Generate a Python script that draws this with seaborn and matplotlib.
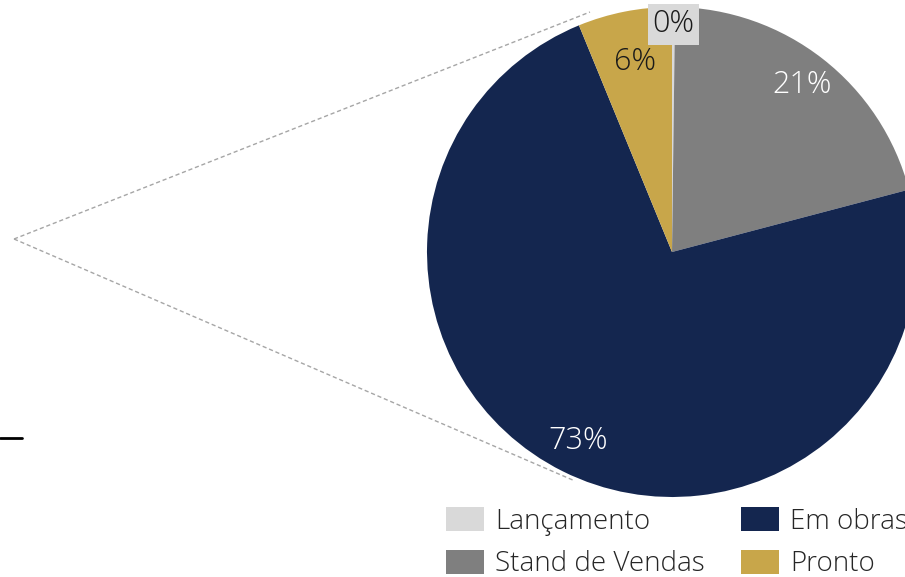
import matplotlib
matplotlib.use("Agg")
import matplotlib.pyplot as plt
import seaborn as sns
import numpy as np
from matplotlib.patches import Patch
from matplotlib.lines import Line2D

# data
categories = ["Lançamento", "Stand de Vendas", "Em obras", "Pronto"]
shares = [0.2, 20.7, 72.9, 6.2]
colors = ["#D9D9D9", "#7F7F7F", "#14264F", "#C8A64A"]
label_colors = ["#1A1A1A", "white", "white", "#1A1A1A"]
label_dist = [0.93, 0.865, 0.86, 0.79]

sns.set_theme(style="white")
font = ["Open Sans", "DejaVu Sans"]
plt.rcParams["font.family"] = font
plt.rcParams["text.color"] = "#262626"

fig = plt.figure(figsize=(9.05, 5.77), dpi=100)
ax = fig.add_axes([0, 0, 1, 1])

cx, cy, r = 672, 325, 245

# callout lines behind the pie
fig.add_artist(Line2D([14 / 905, 590 / 905], [1 - 239 / 577, 1 - 12 / 577],
                      color="#A6A6A6", lw=1, ls=(0, (3, 2))))
fig.add_artist(Line2D([14 / 905, 575 / 905], [1 - 239 / 577, 1 - 481 / 577],
                      color="#A6A6A6", lw=1, ls=(0, (3, 2))))
fig.add_artist(Line2D([0, 22 / 905], [1 - 438 / 577, 1 - 438 / 577],
                      color="black", lw=2))

wedges, texts, autotexts = ax.pie(
    shares, colors=colors, startangle=90, counterclock=False,
    center=(cx, cy), radius=r, autopct="%1.0f%%", frame=True,
    wedgeprops=dict(linewidth=0),
    textprops=dict(fontsize=22, fontweight="light", family=font),
)

for w, t, c, d in zip(wedges, autotexts, label_colors, label_dist):
    mid = np.deg2rad((w.theta1 + w.theta2) / 2)
    t.set_position((cx + r * d * np.cos(mid), cy + r * d * np.sin(mid)))
    t.set_color(c)
autotexts[0].set_bbox(dict(facecolor=colors[0], edgecolor="none",
                           boxstyle="square,pad=0.15"))

ax.set_xlim(0, 905)
ax.set_ylim(0, 577)
ax.set_axis_off()

handles = [Patch(facecolor=c, edgecolor="none") for c in colors]
leg_kw = dict(frameon=False, loc="upper left", handlelength=1.37,
              handleheight=0.97, handletextpad=0.4, labelspacing=0.5,
              borderaxespad=0, borderpad=0,
              prop=dict(family=font, weight="light", size=20))
# two columns: Lançamento/Stand de Vendas, Em obras/Pronto
for idx, x0 in [((0, 1), 446), ((2, 3), 741)]:
    leg = fig.legend([handles[i] for i in idx], [categories[i] for i in idx],
                     bbox_to_anchor=(x0 / 905, 1 - 507 / 577), **leg_kw)
    for t in leg.get_texts():
        t.set_color("#262626")

fig.savefig("out.png", dpi=100)
